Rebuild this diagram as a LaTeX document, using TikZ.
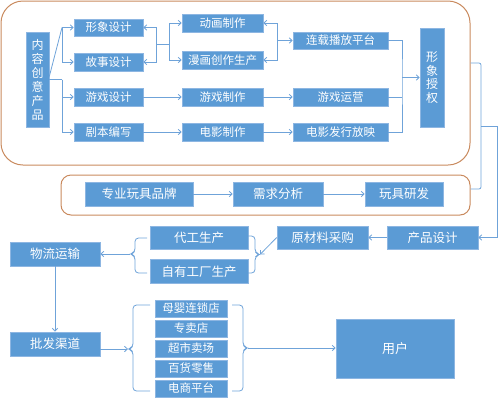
\documentclass[tikz,border=0pt]{standalone}
\usepackage{fontspec}
\newfontfamily\cjk{Noto Sans CJK SC}
\usetikzlibrary{arrows.meta}
\definecolor{boxblue}{HTML}{5B9BD5}
\definecolor{boxedge}{HTML}{8DB6E2}
\definecolor{linec}{HTML}{6FA3D9}
\definecolor{framec}{HTML}{C98A5E}
\newcommand\myrbrace[5]{% x, top, mid, bottom, tick x
  \draw[conn, rounded corners=3.5pt] (#5,#2) -- (#1,#2) -- (#1,#3-2) -- (#1+5,#3) -- (#1,#3+2) -- (#1,#4) -- (#5,#4);}
\newcommand\mylbrace[5]{% x, top, mid, bottom, tick x
  \draw[conn, rounded corners=3.5pt] (#5,#2) -- (#1,#2) -- (#1,#3-2) -- (#1-5,#3) -- (#1,#3+2) -- (#1,#4) -- (#5,#4);}
\begin{document}
\begin{tikzpicture}[x=1pt,y=-1pt,
  box/.style={fill=boxblue, draw=boxedge, line width=0.6pt, text=white, inner sep=0pt,
              font=\cjk\fontsize{11.5}{13}\selectfont},
  bigtxt/.style={font=\cjk\fontsize{12.5}{14}\selectfont},
  conn/.style={draw=linec, line width=0.8pt},
  arr/.style={conn, -{Straight Barb[length=3pt,width=5.5pt]}},
  frm/.style={draw=framec, line width=1pt, inner sep=0pt}]
\useasboundingbox (0,0) rectangle (500,400);

% frames
\node[frm, rounded corners=22pt, minimum width=469pt, minimum height=164pt] (r1) at (235.5,83) {};
\node[frm, rounded corners=10pt, minimum width=409pt, minimum height=40pt] (r2) at (265.5,195) {};

% top block
\node[box, align=center, minimum width=23pt, minimum height=95pt, font=\cjk\fontsize{12}{14}\selectfont] (nr) at (37.5,79.5) {内\\容\\创\\意\\产\\品};
\node[box, minimum width=69pt, minimum height=17pt] (xx) at (108.5,27.5) {形象设计};
\node[box, minimum width=69pt, minimum height=18pt] (gs) at (108.5,62) {故事设计};
\node[box, minimum width=69pt, minimum height=18pt] (yxsj) at (108.5,97) {游戏设计};
\node[box, minimum width=69pt, minimum height=18pt] (jb) at (108.5,132) {剧本编写};
\node[box, minimum width=81pt, minimum height=18pt] (dh) at (222.5,23) {动画制作};
\node[box, minimum width=81pt, minimum height=18pt] (mh) at (222.5,60) {漫画创作生产};
\node[box, minimum width=81pt, minimum height=18pt] (yxzz) at (222.5,97) {游戏制作};
\node[box, minimum width=81pt, minimum height=18pt] (dyzz) at (222.5,132) {电影制作};
\node[box, minimum width=95pt, minimum height=17pt] (lz) at (340.5,40.5) {连载播放平台};
\node[box, minimum width=95pt, minimum height=18pt] (yxyy) at (340.5,97) {游戏运营};
\node[box, minimum width=95pt, minimum height=18pt] (dyfx) at (340.5,132) {电影发行放映};
\node[box, align=center, minimum width=24pt, minimum height=99pt, font=\cjk\fontsize{12}{13.5}\selectfont] (sq) at (432,77.5) {形\\象\\授\\权};

% second frame row
\node[box, bigtxt, minimum width=108pt, minimum height=24pt] (zy) at (139,194) {专业玩具品牌};
\node[box, bigtxt, minimum width=90pt, minimum height=24pt] (xq) at (278,194) {需求分析};
\node[box, bigtxt, minimum width=78pt, minimum height=24pt] (wj) at (404,194) {玩具研发};

% production
\node[box, bigtxt, minimum width=91pt, minimum height=23pt] (cp) at (432.5,237.5) {产品设计};
\node[box, bigtxt, minimum width=91pt, minimum height=23pt] (ycl) at (322.5,237.5) {原材料采购};
\node[box, bigtxt, minimum width=98pt, minimum height=23pt] (dg) at (199,237.5) {代工生产};
\node[box, bigtxt, minimum width=98pt, minimum height=24pt] (zyc) at (199,271.5) {自有工厂生产};
\node[box, bigtxt, minimum width=90pt, minimum height=24pt] (wl) at (55,254) {物流运输};
\node[box, bigtxt, minimum width=90pt, minimum height=24pt] (pf) at (55,344) {批发渠道};

% channels
\node[box, minimum width=72pt, minimum height=17pt] (my) at (191,308.5) {母婴连锁店};
\node[box, minimum width=72pt, minimum height=17pt] (zmd) at (191,328.5) {专卖店};
\node[box, minimum width=72pt, minimum height=17pt] (cs) at (191,348.5) {超市卖场};
\node[box, minimum width=72pt, minimum height=17pt] (bh) at (191,368.5) {百货零售};
\node[box, minimum width=72pt, minimum height=17pt] (ds) at (191,388.5) {电商平台};
\node[box, font=\cjk\fontsize{13}{15}\selectfont, minimum width=118pt, minimum height=59pt] (yh) at (395,348.5) {用户};

% connectors top block
\coordinate (j1) at (62,27.5);
\coordinate (j2) at (62,79.5);
\draw[conn] ([yshift=3pt]nr.east) -- (j1);
\draw[arr] (j1) -- (xx.west);
\draw[arr] (j1) |- (gs.west);
\draw[conn] (nr.east) -- (j2);
\draw[arr] (j2) |- (yxsj.west);
\draw[arr] (j2) |- (jb.west);

\coordinate (m1) at (156,44);
\coordinate (m2) at (169,44);
\draw[conn] (m1) -- (m2);
\draw[arr] (m1) |- (xx.east);
\draw[arr] (m1) |- (gs.east);
\draw[arr] (m2) |- (dh.west);
\draw[arr] (m2) |- (mh.west);

\coordinate (m3) at (277,40.5);
\draw[arr] (m3) |- (dh.east);
\draw[arr] (m3) |- (mh.east);
\draw[arr] (m3) -- (lz.west);

\draw[arr] (yxsj) -- (yxzz);
\draw[arr] (yxzz) -- (yxyy);
\draw[arr] (jb) -- (dyzz);
\draw[arr] (dyzz) -- (dyfx);

\coordinate (m4) at (402,77.5);
\draw[conn] (lz.east) -| (m4) |- (dyfx.east);
\draw[conn] (yxyy.east) -- (yxyy.east -| m4);
\draw[arr] (m4) -- (sq.west);

% big brace to product design
\coordinate (bt) at (481,63);
\coordinate (bb) at (481,189);
\coordinate (bm) at (481,126);
\coordinate (bc) at (497,126);
\draw[conn, rounded corners=2pt] (bt -| r1.east) -- (bt) -- (bb) -- (bb -| r2.east);
\draw[arr] (bm) -- (bc) |- (cp.east);

% second row arrows
\draw[arr] (zy) -- (xq);
\draw[arr] (xq) -- (wj);

% production flow
\draw[arr] (cp) -- (ycl);
\myrbrace{255}{236}{254.5}{273}{248}
\coordinate (tipA) at (260,254.5);
\draw[arr] (ycl.west) -- (tipA);
\mylbrace{135}{238}{254}{273}{147}
\coordinate (tipD) at (130,254);
\draw[arr] (tipD) -- (wl.east);
\draw[arr] (wl) -- (pf);

% channels
\mylbrace{133}{305}{349}{391}{150}
\coordinate (tipB) at (128,349);
\draw[arr] (pf.east |- tipB) -- (tipB);
\myrbrace{243}{305}{348}{391}{232}
\coordinate (tipC) at (248,348);
\draw[arr] (tipC) -- (yh.west |- tipC);
\end{tikzpicture}
\end{document}
